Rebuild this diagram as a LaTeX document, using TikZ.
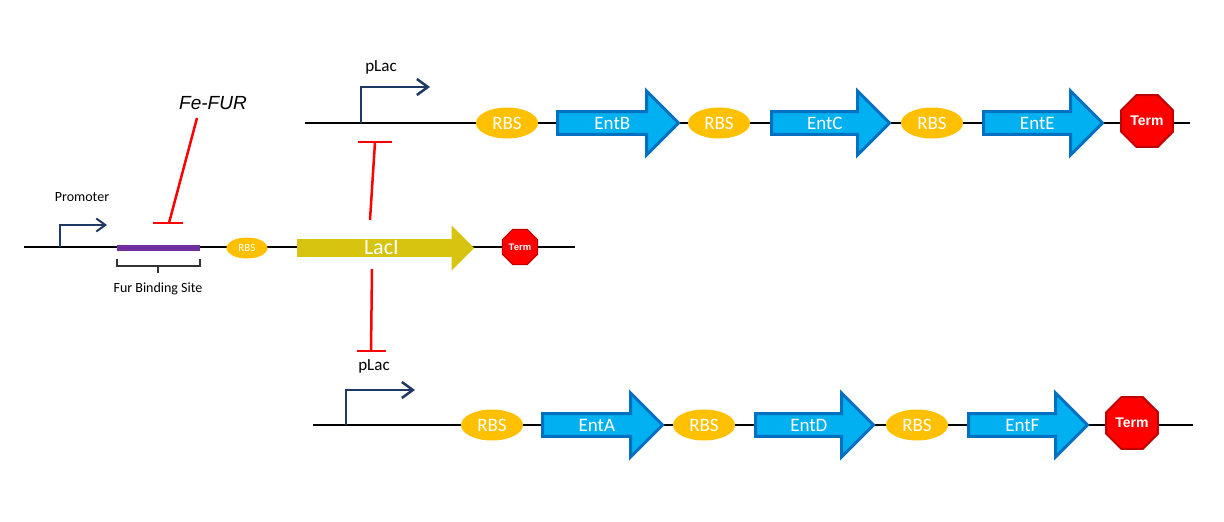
\documentclass[tikz,border=0pt]{standalone}
\usepackage{fontspec}
\setmainfont{Carlito}
\newfontfamily\arialfont{Liberation Sans}
\usepackage{tikz}
\usetikzlibrary{arrows.meta, shapes.geometric, shapes.arrows}
\definecolor{geneblue}{RGB}{0,176,240}
\definecolor{geneedge}{RGB}{0,112,192}
\definecolor{rbsgold}{RGB}{255,192,0}
\definecolor{lacyellow}{RGB}{214,196,16}
\definecolor{promnavy}{RGB}{31,56,100}
\definecolor{furpurple}{RGB}{112,48,160}
\definecolor{termedge}{RGB}{192,0,0}

\begin{document}
\begin{tikzpicture}[x=1pt, y=-1pt,
    rbs/.style={ellipse, fill=rbsgold, text=white, minimum width=62pt, minimum height=31pt, inner sep=0pt, font=\fontsize{19}{19}\selectfont},
    gene/.style={single arrow, fill=geneblue, draw=geneedge, line width=3pt, text=white, minimum height=118pt, minimum width=64pt, single arrow head extend=14pt, inner sep=0pt, anchor=tail, font=\fontsize{19}{19}\selectfont},
    term/.style={regular polygon, regular polygon sides=8, fill=red, draw=termedge, line width=2pt, text=white, minimum size=56pt, inner sep=0pt, font=\arialfont\bfseries\fontsize{14}{14}\selectfont},
    prom/.style={draw=promnavy, line width=2.5pt, -{Straight Barb[length=11pt,width=16pt]}},
    repress/.style={draw=red, line width=2.5pt},
    dna/.style={line width=2pt},
    lbl/.style={font=\fontsize{17}{17}\selectfont}
  ]
  \useasboundingbox (0,0) rectangle (1224,522);

  % === top operon: pLac -> EntB, EntC, EntE ===
  \coordinate (topL) at (305,123);
  \coordinate (topR) at (1190,123);
  \draw[dna] (topL) -- (topR);
  \coordinate (pTop) at (361,123);
  \coordinate (pTopEnd) at (430,87);
  \draw[prom] (pTop) |- (pTopEnd);
  \node[lbl] (pLacTop) at (381,67) {pLac};
  \node[rbs] (rbsB) at (507,123) {RBS};
  \node[gene, minimum height=121pt] (entB) at (556,123) {EntB};
  \node[rbs] (rbsC) at (719,123) {RBS};
  \node[gene] (entC) at (770,123) {EntC};
  \node[rbs] (rbsE) at (932,123) {RBS};
  \node[gene, minimum height=119pt] (entE) at (982,123) {EntE};
  \node[term] (termTop) at (1147,121) {Term};

  % === middle: Fur-regulated LacI ===
  \coordinate (midL) at (24,247);
  \coordinate (midR) at (575,247);
  \draw[line width=1.5pt] (midL) -- (midR);
  \coordinate (pMid) at (60,247);
  \coordinate (pMidEnd) at (107,225);
  \draw[prom, line width=2pt, -{Straight Barb[length=9pt,width=13pt]}] (pMid) |- (pMidEnd);
  \node[font=\fontsize{14}{14}\selectfont] (promLbl) at (82,197) {Promoter};
  \coordinate (furL) at (117,248);
  \coordinate (furR) at (200,248);
  \draw[furpurple, line width=6pt] (furL) -- (furR);
  % bracket under the binding site
  \draw[black!80, line width=1.5pt]
    (117,259) |- (158,266) -- (158,273)
    (158,266) -| (200,259);
  \node[font=\fontsize{14}{14}\selectfont] (furLbl) at (158,289) {Fur Binding Site};
  \node[font=\arialfont\itshape\fontsize{19}{19}\selectfont] (feFur) at (213,103) {Fe-FUR};
  \coordinate (feFurOut) at (197,118);
  \coordinate (furHit) at (169,223);
  \draw[repress] (feFurOut) -- (furHit);
  \draw[repress] ([xshift=-16pt]furHit) -- ([xshift=14pt]furHit);
  \node[rbs, minimum width=41pt, minimum height=21pt, font=\fontsize{11}{11}\selectfont] (rbsLac) at (247,248) {RBS};
  \node[single arrow, fill=lacyellow, text=white, minimum height=177pt, minimum width=45pt,
    single arrow head extend=11.5pt, inner sep=0pt, anchor=tail,
    font=\fontsize{22}{22}\selectfont] (lacI) at (297,248) {LacI};
  \node[term, minimum size=38pt, line width=1pt, font=\arialfont\bfseries\fontsize{9.5}{9.5}\selectfont] (termMid) at (520,247) {Term};

  % LacI represses both pLac copies
  \coordinate (lacUp) at (370,220);
  \coordinate (pTopBar) at (375,142);
  \draw[repress] (lacUp) -- (pTopBar);
  \draw[repress] ([xshift=-17pt]pTopBar) -- ([xshift=17pt]pTopBar);
  \coordinate (lacDown) at (372,269);
  \coordinate (pBotBar) at (371,351);
  \draw[repress] (lacDown) -- (pBotBar);
  \draw[repress] ([xshift=-14pt]pBotBar) -- ([xshift=15pt]pBotBar);

  % === bottom operon: pLac -> EntA, EntD, EntF ===
  \coordinate (botL) at (313,425);
  \coordinate (botR) at (1193,425);
  \draw[dna] (botL) -- (botR);
  \coordinate (pBot) at (346,425);
  \coordinate (pBotEnd) at (415,390);
  \draw[prom] (pBot) |- (pBotEnd);
  \node[lbl] (pLacBot) at (374,366) {pLac};
  \node[rbs] (rbsA) at (492,425) {RBS};
  \node[gene, minimum height=120pt] (entA) at (541,425) {EntA};
  \node[rbs] (rbsD) at (704,425) {RBS};
  \node[gene] (entD) at (754,425) {EntD};
  \node[rbs] (rbsF) at (917,425) {RBS};
  \node[gene, minimum height=119pt] (entF) at (967,425) {EntF};
  \node[term] (termBot) at (1132,423) {Term};
\end{tikzpicture}
\end{document}
